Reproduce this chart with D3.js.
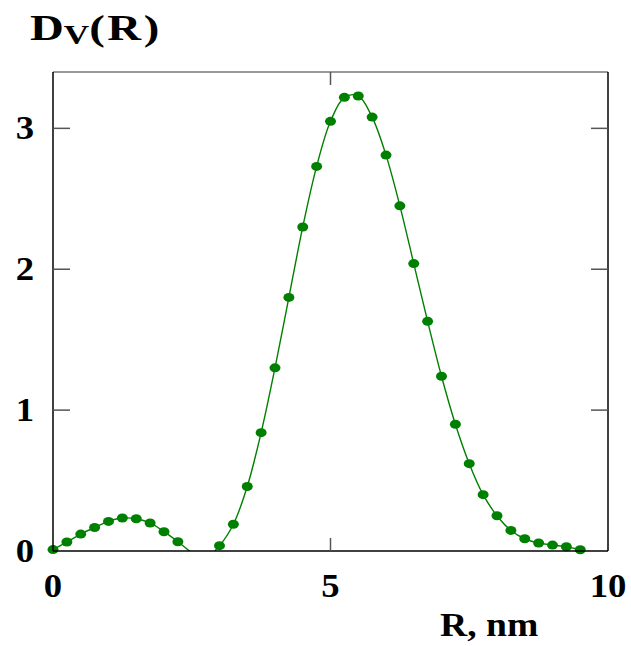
<!DOCTYPE html>
<html>
<head>
<meta charset="utf-8">
<script src="https://cdn.jsdelivr.net/npm/d3@7"></script>
<style>
  html, body { margin: 0; padding: 0; background: #fff; }
  svg { display: block; }
  .lbl { font-family: "Liberation Serif", "Times New Roman", serif; font-weight: bold; fill: #000; }
</style>
</head>
<body>
<script>
// Volume size distribution Dv(R) versus radius R (nm)
const radius = [0, 0.25, 0.5, 0.75, 1.0, 1.25, 1.5, 1.75, 2.0, 2.25, 2.5, 2.75,
  3.0, 3.25, 3.5, 3.75, 4.0, 4.25, 4.5, 4.75, 5.0, 5.25, 5.5, 5.75, 6.0, 6.25,
  6.5, 6.75, 7.0, 7.25, 7.5, 7.75, 8.0, 8.25, 8.5, 8.75, 9.0, 9.25, 9.5];
const dv = [0.01, 0.064, 0.12, 0.167, 0.21, 0.234, 0.229, 0.199, 0.137, 0.066, -0.01, -0.05,
  0.038, 0.19, 0.458, 0.84, 1.30, 1.80, 2.30, 2.73, 3.05, 3.22, 3.23, 3.08, 2.81, 2.45,
  2.04, 1.63, 1.24, 0.90, 0.62, 0.40, 0.25, 0.146, 0.087, 0.057, 0.042, 0.030, 0.009];
const xTicks = [0, 5, 10];
const yTicks = [0, 1, 2, 3];
const xDomain = [0, 10];
const yDomain = [0, 3.4];

const W = 631, H = 646;
const m = { left: 53, right: 608, top: 72, bottom: 551 };
const green = "#008000";
const fs = 34, sx = 1.08;

const svg = d3.select("body").append("svg").attr("width", W).attr("height", H);

const x = d3.scaleLinear().domain(xDomain).range([m.left, m.right]);
const y = d3.scaleLinear().domain(yDomain).range([m.bottom, m.top]);

const points = radius.map((r, i) => ({ r, v: dv[i] }));

svg.append("clipPath").attr("id", "plot")
  .append("rect")
  .attr("x", m.left).attr("y", m.top)
  .attr("width", m.right - m.left).attr("height", m.bottom - m.top);

// fitted curve, clipped where it dips below zero
const line = d3.line().x(d => x(d.r)).y(d => y(d.v)).curve(d3.curveCatmullRom.alpha(0.5));
svg.append("path")
  .datum(points)
  .attr("clip-path", "url(#plot)")
  .attr("fill", "none")
  .attr("stroke", green)
  .attr("stroke-width", 1.4)
  .attr("d", line);

// data markers (only non-negative values are visible)
svg.append("g").selectAll("ellipse")
  .data(points.filter(d => d.v >= 0))
  .join("ellipse")
  .attr("cx", d => x(d.r))
  .attr("cy", d => y(d.v))
  .attr("rx", 5.5)
  .attr("ry", 4.5)
  .attr("fill", green);

// frame
svg.append("line").attr("x1", m.left).attr("x2", m.right).attr("y1", m.top).attr("y2", m.top)
  .attr("stroke", "#777").attr("stroke-width", 1.5);
svg.append("line").attr("x1", m.right).attr("x2", m.right).attr("y1", m.top).attr("y2", m.bottom)
  .attr("stroke", "#000").attr("stroke-width", 1.5);
svg.append("line").attr("x1", m.left).attr("x2", m.left).attr("y1", m.top).attr("y2", m.bottom)
  .attr("stroke", "#000").attr("stroke-width", 1.5);
svg.append("line").attr("x1", m.left).attr("x2", m.right).attr("y1", m.bottom).attr("y2", m.bottom)
  .attr("stroke", "#000").attr("stroke-width", 1.5);

// inward ticks
const innerX = xTicks.filter(t => t > xDomain[0] && t < xDomain[1]);
const innerY = yTicks.filter(t => t > yDomain[0] && t < yDomain[1]);
const tk = svg.append("g").attr("stroke", "#555").attr("stroke-width", 1.5);
innerX.forEach(t => {
  tk.append("line").attr("x1", x(t)).attr("x2", x(t)).attr("y1", m.bottom).attr("y2", m.bottom - 13);
  tk.append("line").attr("x1", x(t)).attr("x2", x(t)).attr("y1", m.top).attr("y2", m.top + 13);
});
innerY.forEach(t => {
  tk.append("line").attr("x1", m.left).attr("x2", m.left + 17).attr("y1", y(t)).attr("y2", y(t));
  tk.append("line").attr("x1", m.right).attr("x2", m.right - 17).attr("y1", y(t)).attr("y2", y(t));
});

// tick labels
function label(tx, ty, text, anchor, size, scale) {
  return svg.append("text").attr("class", "lbl")
    .attr("transform", `translate(${tx},${ty}) scale(${scale || sx},1)`)
    .attr("text-anchor", anchor)
    .attr("font-size", size || fs)
    .text(text);
}
xTicks.forEach(t => label(x(t), 597, t, "middle"));
yTicks.forEach(t => label(34, y(t) + 11, t, "end"));

// axis titles
label(440, 636, "R, nm", "start", 33, 1.14);
const title = svg.append("text").attr("class", "lbl")
  .attr("transform", `translate(30,40) scale(1.3,1)`)
  .attr("font-size", 36);
title.append("tspan").text("D");
title.append("tspan").attr("font-size", 27).attr("dy", 4).text("V");
title.append("tspan").attr("dy", -4).attr("letter-spacing", 2).text("(R)");
</script>
</body>
</html>
